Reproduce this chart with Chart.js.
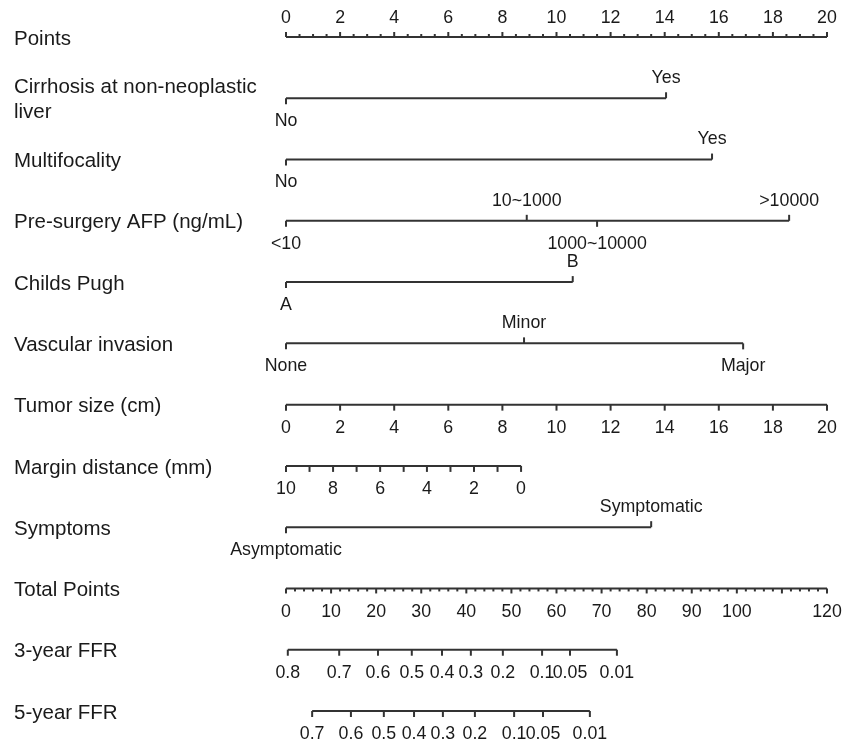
<!DOCTYPE html>
<html>
<head>
<meta charset="utf-8">
<script src="https://cdn.jsdelivr.net/npm/chart.js@4.4.1/dist/chart.umd.min.js"></script>
<style>
  body { margin: 0; background: #fff; }
</style>
</head>
<body>
<canvas id="nomogram" width="844" height="744"></canvas>
<script>
// row titles, top to bottom
const rowNames = [
  'Points',
  'Cirrhosis at non-neoplastic\nliver',
  'Multifocality',
  'Pre-surgery AFP (ng/mL)',
  'Childs Pugh',
  'Vascular invasion',
  'Tumor size (cm)',
  'Margin distance (mm)',
  'Symptoms',
  'Total Points',
  '3-year FFR',
  '5-year FFR'
];

// Points scale (0-20)
const pointsLabels = [0, 2, 4, 6, 8, 10, 12, 14, 16, 18, 20];

// categorical predictors: level names and their points
const cirrhosisLevels = ['No', 'Yes'];
const cirrhosisPoints = [0, 14.05];
const multifocalityLevels = ['No', 'Yes'];
const multifocalityPoints = [0, 15.75];
const afpLevels = ['<10', '10~1000', '1000~10000', '>10000'];
const afpPoints = [0, 8.9, 11.5, 18.6];
const childsLevels = ['A', 'B'];
const childsPoints = [0, 10.6];
const vascularLevels = ['None', 'Minor', 'Major'];
const vascularPoints = [0, 8.8, 16.9];
const symptomLevels = ['Asymptomatic', 'Symptomatic'];
const symptomPoints = [0, 13.5];

// continuous predictors: tick values and their points
const tumorValues = [0, 2, 4, 6, 8, 10, 12, 14, 16, 18, 20];
const tumorPoints = [0, 2, 4, 6, 8, 10, 12, 14, 16, 18, 20];
const marginValues = [10, 9, 8, 7, 6, 5, 4, 3, 2, 1, 0];
const marginPoints = [0, 0.87, 1.74, 2.61, 3.48, 4.35, 5.21, 6.08, 6.95, 7.82, 8.69];

// Total points scale (0-120)
const totalLabels = [0, 10, 20, 30, 40, 50, 60, 70, 80, 90, 100, 120];

// survival probability ticks, placed on total points
const ffr3Labels = ['0.8', '0.7', '0.6', '0.5', '0.4', '0.3', '0.2', '0.1', '0.05', '0.01'];
const ffr3Total = [0.4, 11.8, 20.4, 27.9, 34.6, 41.0, 48.1, 56.8, 63.0, 73.4];
const ffr5Labels = ['0.7', '0.6', '0.5', '0.4', '0.3', '0.2', '0.1', '0.05', '0.01'];
const ffr5Total = [5.8, 14.4, 21.7, 28.4, 34.8, 41.9, 50.6, 57.0, 67.4];

const lineColor = '#333333';
const textColor = '#1a1a1a';
const rowFont = '20.5px "Liberation Sans", Arial, sans-serif';
const tickFont = '17.8px "Liberation Sans", Arial, sans-serif';

const categorical = [
  { row: 1, levels: cirrhosisLevels, pts: cirrhosisPoints },
  { row: 2, levels: multifocalityLevels, pts: multifocalityPoints },
  { row: 3, levels: afpLevels, pts: afpPoints },
  { row: 4, levels: childsLevels, pts: childsPoints },
  { row: 5, levels: vascularLevels, pts: vascularPoints },
  { row: 8, levels: symptomLevels, pts: symptomPoints }
];

function segment(row, values, axis) {
  return {
    data: [{ x: Math.min(...values), y: row }, { x: Math.max(...values), y: row }],
    xAxisID: axis,
    borderColor: lineColor,
    borderWidth: 2,
    pointRadius: 0,
    clip: false
  };
}

const datasets = [
  segment(0, pointsLabels, 'x'),
  ...categorical.map(c => segment(c.row, c.pts, 'x')),
  segment(6, tumorPoints, 'x'),
  segment(7, marginPoints, 'x'),
  segment(9, totalLabels, 'xt'),
  segment(10, ffr3Total, 'xt'),
  segment(11, ffr5Total, 'xt')
];

const nomogramMarks = {
  id: 'nomogramMarks',
  afterDatasetsDraw(chart) {
    const ctx = chart.ctx;
    const xs = chart.scales.x, xt = chart.scales.xt, ys = chart.scales.y;
    ctx.save();
    ctx.strokeStyle = lineColor;
    ctx.lineWidth = 2;
    ctx.fillStyle = textColor;
    ctx.textAlign = 'center';
    ctx.textBaseline = 'middle';

    const tick = (x, y, len) => {
      ctx.beginPath();
      ctx.moveTo(x, y);
      ctx.lineTo(x, y + len);
      ctx.stroke();
    };
    const label = (txt, x, y) => ctx.fillText(txt, x, y);

    // row titles
    ctx.textAlign = 'left';
    ctx.font = rowFont;
    rowNames.forEach((name, i) => {
      const y = ys.getPixelForValue(i);
      const parts = name.split('\n');
      parts.forEach((p, k) => {
        label(p, 14, y + 2 + (k - (parts.length - 1) / 2) * 25);
      });
    });
    ctx.textAlign = 'center';
    ctx.font = tickFont;

    // Points axis: ticks up, labels above
    let y = ys.getPixelForValue(0);
    for (let v = 0; v <= 20; v += 0.5) {
      tick(xs.getPixelForValue(v), y, v % 2 === 0 ? -5 : -3);
    }
    pointsLabels.forEach(v => label(String(v), xs.getPixelForValue(v), y - 19));

    // categorical rows: alternate below / above
    categorical.forEach(c => {
      const yy = ys.getPixelForValue(c.row);
      c.pts.forEach((p, i) => {
        const x = xs.getPixelForValue(p);
        const up = i % 2 === 1;
        tick(x, yy, up ? -6 : 6);
        label(c.levels[i], x, up ? yy - 20 : yy + 23);
      });
    });

    // tumor size
    y = ys.getPixelForValue(6);
    tumorPoints.forEach((p, i) => {
      const x = xs.getPixelForValue(p);
      tick(x, y, 6);
      label(String(tumorValues[i]), x, y + 23);
    });

    // margin distance
    y = ys.getPixelForValue(7);
    marginPoints.forEach((p, i) => {
      const x = xs.getPixelForValue(p);
      tick(x, y, 6);
      if (marginValues[i] % 2 === 0) label(String(marginValues[i]), x, y + 23);
    });

    // total points
    y = ys.getPixelForValue(9);
    for (let v = 0; v <= 120; v += 2) {
      tick(xt.getPixelForValue(v), y, v % 10 === 0 ? 5 : 3);
    }
    totalLabels.forEach(v => label(String(v), xt.getPixelForValue(v), y + 24));

    // FFR rows
    [[10, ffr3Labels, ffr3Total], [11, ffr5Labels, ffr5Total]].forEach(([row, labs, tot]) => {
      const yy = ys.getPixelForValue(row);
      tot.forEach((t, i) => {
        const x = xt.getPixelForValue(t);
        tick(x, yy, 6);
        label(labs[i], x, yy + 23);
      });
    });

    ctx.restore();
  }
};

new Chart(document.getElementById('nomogram'), {
  type: 'line',
  data: { datasets },
  options: {
    responsive: false,
    animation: false,
    layout: { padding: { left: 286, right: 17, top: 37, bottom: 33 } },
    plugins: { legend: { display: false }, tooltip: { enabled: false } },
    scales: {
      x: { type: 'linear', min: 0, max: 20, display: false },
      xt: { type: 'linear', min: 0, max: 120, display: false },
      y: { type: 'linear', min: 0, max: 11, reverse: true, display: false }
    }
  },
  plugins: [nomogramMarks]
});
</script>
</body>
</html>
